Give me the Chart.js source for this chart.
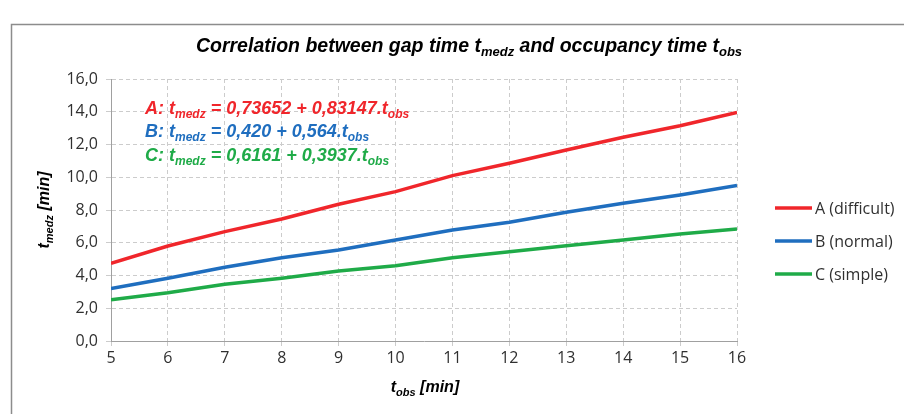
<!DOCTYPE html>
<html>
<head>
<meta charset="utf-8">
<script src="https://cdn.jsdelivr.net/npm/chart.js@4/dist/chart.umd.min.js"></script>
<style>
  html, body { margin: 0; padding: 0; background: #fff; }
  #wrap { width: 904px; height: 414px; position: relative; }
</style>
</head>
<body>
<div id="wrap"><canvas id="myChart"></canvas></div>
<script>
// data
const tObs = [5, 6, 7, 8, 9, 10, 11, 12, 13, 14, 15, 16];
const difficultA = [4.74, 5.80, 6.68, 7.45, 8.35, 9.12, 10.10, 10.85, 11.66, 12.44, 13.15, 13.96];
const normalB = [3.20, 3.83, 4.50, 5.09, 5.56, 6.17, 6.78, 7.25, 7.86, 8.41, 8.92, 9.49];
const simpleC = [2.52, 2.95, 3.46, 3.83, 4.27, 4.60, 5.09, 5.45, 5.82, 6.17, 6.53, 6.84];
const seriesNames = ["A (difficult)", "B (normal)", "C (simple)"];
const colores = ["#f0262b", "#1f6ebf", "#1fab48"];

const ctx = document.getElementById("myChart");
const FONT = "'Liberation Sans Narrow', 'Liberation Sans', sans-serif";

function puntos(valores) {
  return tObs.map((x, i) => ({ x, y: valores[i] }));
}

// texto con subindices: partes = [[texto, esSub], ...]
function textoSub(c, partes, x, y, size, color, align) {
  const big = `italic bold ${size}px ${FONT}`;
  const small = `italic bold ${Math.round(size * 0.68)}px ${FONT}`;
  let total = 0;
  partes.forEach(([t, sub]) => {
    c.font = sub ? small : big;
    total += c.measureText(t).width;
  });
  let cx = align === "center" ? x - total / 2 : x;
  c.fillStyle = color;
  c.textBaseline = "alphabetic";
  c.textAlign = "left";
  partes.forEach(([t, sub]) => {
    c.font = sub ? small : big;
    c.fillText(t, cx, sub ? y + size * 0.22 : y);
    cx += c.measureText(t).width;
  });
}

const extras = {
  id: "extras",
  afterDraw(chart) {
    const c = chart.ctx;
    c.save();
    // marco
    c.strokeStyle = "#8c8c8c";
    c.lineWidth = 1.5;
    c.strokeRect(11.5, 24.5, 1000, 1000);

    textoSub(c, [["Correlation between gap time t", false], ["medz", true], [" and occupancy time t", false], ["obs", true]], 469, 52, 19.5, "#000", "center");

    textoSub(c, [["A: t", false], ["medz", true], [" = 0,73652 + 0,83147.t", false], ["obs", true]], 145, 114, 18, colores[0]);
    textoSub(c, [["B: t", false], ["medz", true], [" = 0,420 + 0,564.t", false], ["obs", true]], 145, 137, 18, colores[1]);
    textoSub(c, [["C: t", false], ["medz", true], [" = 0,6161 + 0,3937.t", false], ["obs", true]], 145, 161, 18, colores[2]);

    textoSub(c, [["t", false], ["obs", true], [" [min]", false]], 425, 392, 16, "#000", "center");

    c.save();
    c.translate(49, 210);
    c.rotate(-Math.PI / 2);
    textoSub(c, [["t", false], ["medz", true], [" [min]", false]], 0, 0, 16, "#000", "center");
    c.restore();

    // leyenda
    chart.data.datasets.forEach((ds, i) => {
      const y = 208 + i * 33;
      c.strokeStyle = ds.borderColor;
      c.lineWidth = 3.5;
      c.beginPath();
      c.moveTo(775, y);
      c.lineTo(812, y);
      c.stroke();
      c.fillStyle = "#303030";
      c.font = `16px 'Open Sans', sans-serif`;
      c.textBaseline = "middle";
      c.fillText(ds.label, 815, y + 1);
    });
    c.restore();
  },
};

new Chart(ctx, {
  type: "line",
  data: {
    datasets: [
      { label: seriesNames[0], data: puntos(difficultA), borderColor: colores[0], backgroundColor: colores[0], borderWidth: 3.5, pointRadius: 0, tension: 0 },
      { label: seriesNames[1], data: puntos(normalB), borderColor: colores[1], backgroundColor: colores[1], borderWidth: 3.5, pointRadius: 0, tension: 0 },
      { label: seriesNames[2], data: puntos(simpleC), borderColor: colores[2], backgroundColor: colores[2], borderWidth: 3.5, pointRadius: 0, tension: 0 },
    ],
  },
  options: {
    responsive: true,
    maintainAspectRatio: false,
    animation: false,
    layout: { padding: { top: 79, right: 167, left: 0, bottom: 0 } },
    plugins: { legend: { display: false }, tooltip: { enabled: false } },
    scales: {
      x: {
        type: "linear",
        min: 5,
        max: 16,
        ticks: { stepSize: 1, color: "#303030", font: { family: "'Open Sans', sans-serif", size: 16 }, padding: 3, maxRotation: 0 },
        grid: { color: "#cccccc", tickLength: 5 },
        border: { color: "#a0a0a0", dash: [4, 3] },
        afterFit: (s) => { s.height = 73; },
      },
      y: {
        min: 0,
        max: 16,
        ticks: {
          stepSize: 2,
          color: "#303030",
          font: { family: "'Open Sans', sans-serif", size: 16 },
          padding: 8,
          callback: (v) => v.toFixed(1).replace(".", ","),
        },
        grid: { color: "#cccccc", tickLength: 5 },
        border: { color: "#a0a0a0", dash: [4, 3] },
        afterFit: (s) => { s.width = 111; },
      },
    },
  },
  plugins: [extras],
});
</script>
</body>
</html>
